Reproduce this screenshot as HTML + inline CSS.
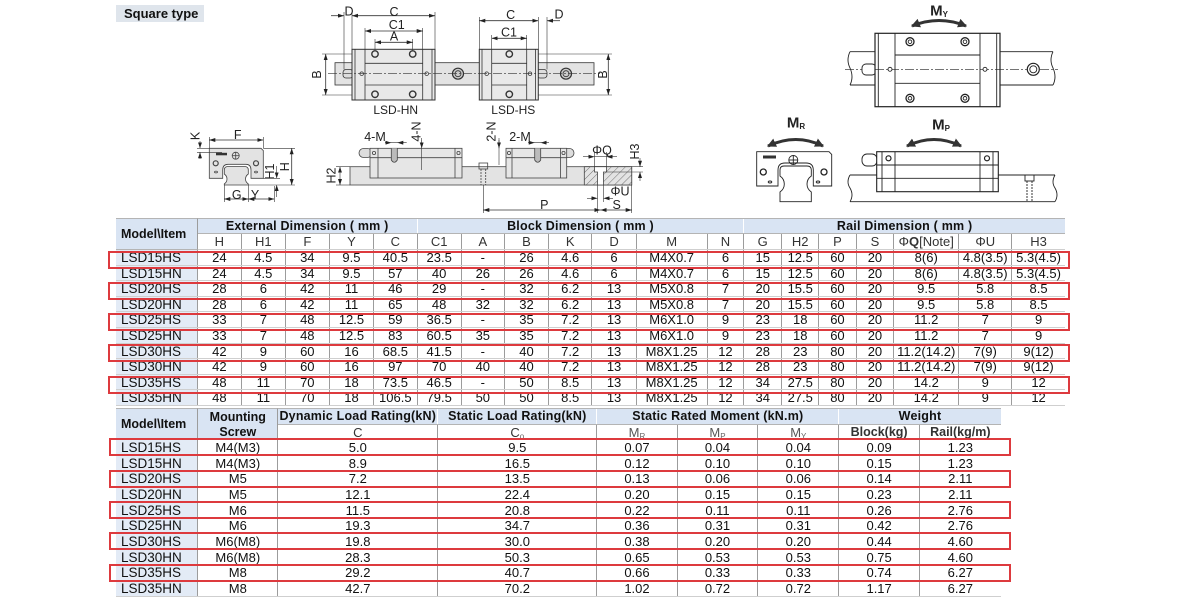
<!DOCTYPE html>
<html><head><meta charset="utf-8"><style>
body{margin:0;width:1200px;height:600px;background:#fff;position:relative;overflow:hidden;font-family:"Liberation Sans",Arial,sans-serif;color:#111}
.r{position:absolute;display:flex;box-sizing:border-box;border-bottom:1px solid #cfcfcf}
.r>div{box-sizing:border-box;border-right:1px solid #9c9c9c;text-align:center;font-size:13px;line-height:16.5px;white-space:nowrap;flex:none;overflow:visible}
.d>div:first-child{text-align:left;padding-left:5px;background:#e3ebf6;font-size:13.5px}
.t1{left:116px;width:949px;height:15.6px}
.t1>div:nth-child(1){width:81.7px}.t1>div:nth-child(2){width:44.3px}.t1>div:nth-child(3){width:43.7px}.t1>div:nth-child(4){width:44.3px}
.t1>div:nth-child(5){width:44px}.t1>div:nth-child(6){width:43.7px}.t1>div:nth-child(7){width:44px}.t1>div:nth-child(8){width:43.3px}
.t1>div:nth-child(9){width:44px}.t1>div:nth-child(10){width:43.5px}.t1>div:nth-child(11){width:44.2px}.t1>div:nth-child(12){width:71px}
.t1>div:nth-child(13){width:36.6px}.t1>div:nth-child(14){width:38px}.t1>div:nth-child(15){width:37px}.t1>div:nth-child(16){width:37.4px}
.t1>div:nth-child(17){width:37.6px}.t1>div:nth-child(18){width:65px}.t1>div:nth-child(19){width:53px}.t1>div:nth-child(20){width:52.7px;border-right:none}
.t2{left:116px;width:884.7px;height:15.67px}
.t2>div:nth-child(1){width:82.3px}.t2>div:nth-child(2){width:80px}.t2>div:nth-child(3){width:160px}.t2>div:nth-child(4){width:159px}
.t2>div:nth-child(5){width:80.4px}.t2>div:nth-child(6){width:80.6px}.t2>div:nth-child(7){width:81px}.t2>div:nth-child(8){width:80.7px}.t2>div:nth-child(9){width:80.7px;border-right:none}
.hg{position:absolute;display:flex;box-sizing:border-box;border-top:1px solid #b4b4b4;border-bottom:1px solid #b4b4b4}
.hg>div{box-sizing:border-box;background:#d9e4f3;border-right:1px solid #fff;font-weight:bold;font-size:12.5px;line-height:15px;text-align:center;white-space:nowrap;flex:none;letter-spacing:.2px}
.sub>div{color:#333;line-height:15px}
.hid{visibility:hidden}
.mi{position:absolute;z-index:2;box-sizing:border-box;background:#d9e4f3;border-top:1px solid #b4b4b4;border-right:1px solid #9c9c9c;border-bottom:1px solid #b4b4b4;font-weight:bold;font-size:12.5px;padding-left:5px;white-space:nowrap}
.rb{position:absolute;box-sizing:border-box;border:2px solid #dd3a3e;z-index:3}
.sm{font-size:8px;color:#666;vertical-align:-2px}
svg text{font-family:"Liberation Sans",Arial,sans-serif;fill:#222}
</style></head><body>

<div style="position:absolute;left:116px;top:5px;width:88px;height:17px;background:#dfe5ec;font-weight:bold;font-size:13px;line-height:17px;padding-left:8px;box-sizing:border-box">Square type</div>

<svg width="1200" height="216" style="position:absolute;left:0;top:0">
<defs>
<marker id="ar" viewBox="0 0 6 4" refX="6" refY="2" markerWidth="6" markerHeight="4" orient="auto-start-reverse" markerUnits="userSpaceOnUse"><path d="M0,0 L6,2 L0,4z" fill="#222"/></marker>
<marker id="bg" viewBox="0 0 8 8" refX="7" refY="4" markerWidth="9" markerHeight="9" orient="auto-start-reverse" markerUnits="userSpaceOnUse"><path d="M0,0 L8,4 L0,8z" fill="#333"/></marker>
<pattern id="hatch" width="5" height="5" patternUnits="userSpaceOnUse" patternTransform="rotate(45)"><rect width="5" height="5" fill="#e3e3e3"/><line x1="0" y1="0" x2="0" y2="5" stroke="#555" stroke-width="0.8"/></pattern>
</defs>

<g stroke="#333" stroke-width="0.8" fill="none">
<rect x="335" y="62.7" width="259" height="22.3" fill="#e3e3e3"/>
<rect x="343" y="69.5" width="10" height="8.5" rx="3" fill="#ddd"/>
<rect x="352" y="49.3" width="83" height="50.7" fill="#e9e9e9" stroke-width="1"/>
<line x1="355" y1="49.3" x2="355" y2="100"/><line x1="432" y1="49.3" x2="432" y2="100"/>
<line x1="365" y1="49.3" x2="365" y2="100"/><line x1="422.7" y1="49.3" x2="422.7" y2="100"/>
<line x1="365" y1="63.3" x2="422.7" y2="63.3"/><line x1="365" y1="85" x2="422.7" y2="85"/>
<circle cx="375" cy="54" r="3.2" stroke-width="1.4"/><circle cx="412.7" cy="54" r="3.2" stroke-width="1.4"/>
<circle cx="375" cy="94.3" r="3.2" stroke-width="1.4"/><circle cx="412.7" cy="94.3" r="3.2" stroke-width="1.4"/>
<circle cx="361.7" cy="73.7" r="1.8"/><circle cx="426.7" cy="73.7" r="1.8"/>
<circle cx="458" cy="73.7" r="5.5" fill="#ccc" stroke-width="1.2"/><circle cx="458" cy="73.7" r="3"/>
<rect x="537" y="69.5" width="10" height="8.5" rx="3" fill="#ddd"/>
<rect x="479.3" y="49.3" width="59" height="50.7" fill="#e9e9e9" stroke-width="1"/>
<line x1="482" y1="49.3" x2="482" y2="100"/><line x1="535.5" y1="49.3" x2="535.5" y2="100"/>
<line x1="491.7" y1="49.3" x2="491.7" y2="100"/><line x1="526.7" y1="49.3" x2="526.7" y2="100"/>
<line x1="491.7" y1="63.3" x2="526.7" y2="63.3"/><line x1="491.7" y1="85" x2="526.7" y2="85"/>
<circle cx="509.3" cy="54" r="3.2" stroke-width="1.4"/><circle cx="509.3" cy="94.3" r="3.2" stroke-width="1.4"/>
<circle cx="486.7" cy="73.7" r="1.8"/><circle cx="530" cy="73.7" r="1.8"/>
<circle cx="566" cy="73.7" r="5.5" fill="#ccc" stroke-width="1.2"/><circle cx="566" cy="73.7" r="3"/>
<line x1="328" y1="73.7" x2="600" y2="73.7" stroke-dasharray="9 2 2 2" stroke-width="0.6"/>
<line x1="322" y1="54" x2="352" y2="54" stroke-width="0.6"/><line x1="322" y1="95" x2="352" y2="95" stroke-width="0.6"/>
<line x1="325.7" y1="54" x2="325.7" y2="95" marker-start="url(#ar)" marker-end="url(#ar)"/>
<line x1="538" y1="54" x2="612" y2="54" stroke-width="0.6"/><line x1="538" y1="95" x2="612" y2="95" stroke-width="0.6"/>
<line x1="608.3" y1="54" x2="608.3" y2="95" marker-start="url(#ar)" marker-end="url(#ar)"/>
<line x1="352" y1="12" x2="352" y2="49.3" stroke-width="0.6"/><line x1="435" y1="12" x2="435" y2="49.3" stroke-width="0.6"/>
<line x1="344" y1="12" x2="344" y2="69.5" stroke-width="0.6"/>
<line x1="352" y1="15.7" x2="435" y2="15.7" marker-start="url(#ar)" marker-end="url(#ar)"/>
<line x1="331" y1="15.7" x2="344" y2="15.7" marker-end="url(#ar)"/>
<line x1="365" y1="28" x2="365" y2="49.3" stroke-width="0.6"/><line x1="422.7" y1="28" x2="422.7" y2="49.3" stroke-width="0.6"/>
<line x1="365" y1="31" x2="422.7" y2="31" marker-start="url(#ar)" marker-end="url(#ar)"/>
<line x1="375" y1="39" x2="375" y2="51" stroke-width="0.6"/><line x1="412.7" y1="39" x2="412.7" y2="51" stroke-width="0.6"/>
<line x1="375" y1="42.3" x2="412.7" y2="42.3" marker-start="url(#ar)" marker-end="url(#ar)"/>
<line x1="479.3" y1="17" x2="479.3" y2="49.3" stroke-width="0.6"/><line x1="538.3" y1="17" x2="538.3" y2="49.3" stroke-width="0.6"/>
<line x1="547" y1="17" x2="547" y2="69.5" stroke-width="0.6"/>
<line x1="479.3" y1="20.7" x2="538.3" y2="20.7" marker-start="url(#ar)" marker-end="url(#ar)"/>
<line x1="560" y1="20.7" x2="547" y2="20.7" marker-end="url(#ar)"/>
<line x1="491.7" y1="35" x2="491.7" y2="49.3" stroke-width="0.6"/><line x1="526.7" y1="35" x2="526.7" y2="49.3" stroke-width="0.6"/>
<line x1="491.7" y1="38.3" x2="526.7" y2="38.3" marker-start="url(#ar)" marker-end="url(#ar)"/>
</g>
<g font-size="12.5" text-anchor="middle" dominant-baseline="central">
<text x="349" y="11.5">D</text><text x="394" y="12">C</text><text x="396.7" y="25">C1</text><text x="394" y="36.5">A</text>
<text x="510.7" y="15">C</text><text x="559" y="14.5">D</text><text x="509" y="32.5">C1</text>
<text transform="translate(317,74.5) rotate(-90)">B</text><text transform="translate(603,74.5) rotate(-90)">B</text>
<text x="395.7" y="110" font-size="12">LSD-HN</text><text x="513.3" y="110" font-size="12">LSD-HS</text>
</g>

<g stroke="#444" stroke-width="0.8" fill="none">
<path d="M209.3,148.3 H261 L263.3,150.6 V178.3 H251 V170 Q251,164.3 246,164.3 H228 Q222.7,164.3 222.7,170 V178.3 H209.3 Z" fill="#e3e3e3"/>
<path d="M224.3,170 Q224.3,166.5 228,166.5 H244.6 Q248.3,166.5 248.3,170 V174 Q245.5,176 245.5,179 Q245.5,182 248.3,184 V185 H224.3 V184 Q227,182 227,179 Q227,176 224.3,174 Z" fill="#e3e3e3"/>
<rect x="216" y="152.8" width="11" height="2.5" fill="#333" stroke="none"/>
<circle cx="235.7" cy="155.7" r="3.5"/><line x1="232.2" y1="155.7" x2="239.2" y2="155.7"/><line x1="235.7" y1="152.2" x2="235.7" y2="159.2"/>
<circle cx="215.7" cy="163.3" r="2.5" stroke-width="1.2"/><circle cx="256" cy="163.3" r="2.5" stroke-width="1.2"/>
<ellipse cx="216" cy="172" rx="1.5" ry="0.9"/><ellipse cx="256" cy="172" rx="1.5" ry="0.9"/>
<g stroke="#333" stroke-width="0.6">
<line x1="209.3" y1="137" x2="209.3" y2="148.3"/><line x1="263.3" y1="137" x2="263.3" y2="148.3"/>
<line x1="209.3" y1="140" x2="263.3" y2="140" marker-start="url(#ar)" marker-end="url(#ar)" stroke-width="0.8"/>
<line x1="197" y1="148.3" x2="209.3" y2="148.3"/><line x1="197" y1="152.3" x2="222" y2="152.3"/>
<line x1="200" y1="141" x2="200" y2="148.3" marker-end="url(#ar)"/><line x1="200" y1="159" x2="200" y2="152.3" marker-end="url(#ar)"/>
<line x1="263.3" y1="148.3" x2="295" y2="148.3"/><line x1="248.3" y1="185" x2="295" y2="185"/><line x1="263.3" y1="178.3" x2="280" y2="178.3"/>
<line x1="291.7" y1="148.3" x2="291.7" y2="185" marker-start="url(#ar)" marker-end="url(#ar)" stroke-width="0.8"/>
<line x1="276.7" y1="166" x2="276.7" y2="178.3" marker-end="url(#ar)"/><line x1="276.7" y1="197" x2="276.7" y2="185" marker-end="url(#ar)"/>
<line x1="224.3" y1="185" x2="224.3" y2="202"/><line x1="248.3" y1="185" x2="248.3" y2="202"/><line x1="274.3" y1="186" x2="274.3" y2="202"/>
<line x1="224.3" y1="199" x2="248.3" y2="199" marker-start="url(#ar)" marker-end="url(#ar)" stroke-width="0.8"/>
<line x1="248.3" y1="199" x2="274.3" y2="199" marker-start="url(#ar)" marker-end="url(#ar)" stroke-width="0.8"/>
</g></g>
<g font-size="12.5" text-anchor="middle" dominant-baseline="central">
<text x="237.7" y="135">F</text><text transform="translate(195.5,136) rotate(-90)">K</text>
<text transform="translate(285,166.7) rotate(-90)">H</text><text transform="translate(270,171.5) rotate(-90)">H1</text>
<text x="236.7" y="195">G</text><text x="255" y="195">Y</text>
</g>

<g stroke="#444" stroke-width="0.8" fill="none">
<rect x="350" y="166.7" width="281.7" height="18.3" fill="#e3e3e3"/>
<rect x="584.3" y="166.7" width="47.4" height="18.3" fill="url(#hatch)"/>
<path d="M594.5,166.7 V172 H597.5 V185 H603.5 V172 H606.5 V166.7 Z" fill="#fff"/>
<rect x="359" y="148.5" width="13" height="9" rx="4.5" fill="#ddd"/>
<rect x="370" y="148.3" width="92" height="29.7" fill="#e6e6e6"/>
<line x1="378" y1="148.3" x2="378" y2="178"/><line x1="455" y1="148.3" x2="455" y2="178"/><line x1="370" y1="157.7" x2="462" y2="157.7"/>
<path d="M391.3,148.3 V160 Q394.3,164.5 397.3,160 V148.3" fill="#bbb"/>
<circle cx="374" cy="153" r="1.6"/><circle cx="458.5" cy="153" r="1.6"/>
<rect x="561" y="148.5" width="13" height="9" rx="4.5" fill="#ddd"/>
<rect x="506" y="148.3" width="60.7" height="29.7" fill="#e6e6e6"/>
<line x1="512" y1="148.3" x2="512" y2="178"/><line x1="560.5" y1="148.3" x2="560.5" y2="178"/><line x1="506" y1="157.7" x2="566.7" y2="157.7"/>
<path d="M534.7,148.3 V160 Q537.7,164.5 540.7,160 V148.3" fill="#bbb"/>
<circle cx="509" cy="153" r="1.6"/><circle cx="563.5" cy="153" r="1.6"/>
<rect x="479" y="163" width="8.7" height="6"/><line x1="481" y1="169" x2="481" y2="185" stroke-dasharray="2 1"/><line x1="485.7" y1="169" x2="485.7" y2="185" stroke-dasharray="2 1"/>
<g stroke="#333" stroke-width="0.6">
<line x1="336" y1="166.7" x2="350" y2="166.7"/><line x1="336" y1="185" x2="350" y2="185"/>
<line x1="340" y1="166.7" x2="340" y2="185" marker-start="url(#ar)" marker-end="url(#ar)"/>
<line x1="385" y1="142.7" x2="406.7" y2="142.7"/><line x1="385" y1="142.7" x2="391.3" y2="142.7" marker-end="url(#ar)"/><line x1="404" y1="142.7" x2="397.3" y2="142.7" marker-end="url(#ar)"/>
<line x1="421.7" y1="138" x2="421.7" y2="170" /><line x1="421.7" y1="140" x2="421.7" y2="148.3" marker-end="url(#ar)"/>
<line x1="499" y1="138" x2="499" y2="165"/><line x1="499" y1="140" x2="499" y2="148.3" marker-end="url(#ar)"/>
<line x1="528" y1="142.7" x2="549" y2="142.7"/><line x1="529" y1="142.7" x2="534.7" y2="142.7" marker-end="url(#ar)"/><line x1="547" y1="142.7" x2="540.7" y2="142.7" marker-end="url(#ar)"/>
<line x1="583" y1="156.7" x2="594.5" y2="156.7" marker-end="url(#ar)"/><line x1="617" y1="156.7" x2="606.5" y2="156.7" marker-end="url(#ar)"/><line x1="594.5" y1="156.7" x2="606.5" y2="156.7"/>
<line x1="594.5" y1="152" x2="594.5" y2="166.7"/><line x1="606.5" y1="152" x2="606.5" y2="166.7"/>
<line x1="631.7" y1="166.7" x2="643" y2="166.7"/><line x1="606.5" y1="172" x2="643" y2="172"/>
<line x1="640" y1="158" x2="640" y2="166.7" marker-end="url(#ar)"/><line x1="640" y1="181" x2="640" y2="172" marker-end="url(#ar)"/>
<line x1="597.5" y1="185" x2="597.5" y2="213"/><line x1="603.5" y1="185" x2="603.5" y2="202"/>
<line x1="587" y1="198.3" x2="597.5" y2="198.3" marker-end="url(#ar)"/><line x1="613" y1="198.3" x2="603.5" y2="198.3" marker-end="url(#ar)"/>
<line x1="483.3" y1="185" x2="483.3" y2="213"/><line x1="631.7" y1="185" x2="631.7" y2="213"/>
<line x1="483.3" y1="210" x2="600.5" y2="210" marker-start="url(#ar)" marker-end="url(#ar)" stroke-width="0.8"/>
<line x1="600.5" y1="210" x2="631.7" y2="210" marker-start="url(#ar)" marker-end="url(#ar)" stroke-width="0.8"/>
</g></g>
<g font-size="12.5" text-anchor="middle" dominant-baseline="central">
<text transform="translate(331.7,175.5) rotate(-90)">H2</text>
<text x="375" y="137">4-M</text><text transform="translate(416.7,131.5) rotate(-90)">4-N</text>
<text transform="translate(491.7,131.5) rotate(-90)">2-N</text><text x="520" y="137">2-M</text>
<text x="602" y="150.5">ΦQ</text><text transform="translate(635,151.5) rotate(-90)">H3</text>
<text x="620" y="191.5">ΦU</text><text x="544.3" y="205">P</text><text x="616.7" y="205">S</text>
</g>

<g stroke="#222" stroke-width="0.9" fill="none">
<path d="M912,26 Q939,15 966,26" stroke="#333" stroke-width="3" marker-start="url(#bg)" marker-end="url(#bg)"/>
<line x1="850" y1="51.7" x2="1053" y2="51.7"/><line x1="850" y1="85" x2="1053" y2="85"/>
<path d="M850,51.7 Q846,60 850,68 Q854,77 850,85"/><path d="M1053,51.7 Q1049,60 1053,68 Q1057,77 1053,85"/>
<line x1="845" y1="69.3" x2="1058" y2="69.3" stroke-dasharray="9 2 2 2" stroke-width="0.6"/>
<rect x="862" y="64" width="14" height="11" rx="4" fill="#fff"/>
<rect x="875" y="33.3" width="125" height="73.4" fill="#fff" stroke-width="1.2"/>
<line x1="878.3" y1="33.3" x2="878.3" y2="106.7"/><line x1="996.7" y1="33.3" x2="996.7" y2="106.7"/>
<line x1="895" y1="33.3" x2="895" y2="106.7"/><line x1="980" y1="33.3" x2="980" y2="106.7"/>
<line x1="895" y1="55" x2="980" y2="55"/><line x1="895" y1="83.3" x2="980" y2="83.3"/>
<line x1="875" y1="69.3" x2="1000" y2="69.3" stroke-dasharray="9 2 2 2" stroke-width="0.6"/>
<circle cx="910" cy="41.7" r="4" stroke-width="1.3"/><circle cx="910" cy="41.7" r="1.8"/>
<circle cx="965" cy="41.7" r="4" stroke-width="1.3"/><circle cx="965" cy="41.7" r="1.8"/>
<circle cx="910" cy="98.3" r="4" stroke-width="1.3"/><circle cx="910" cy="98.3" r="1.8"/>
<circle cx="965" cy="98.3" r="4" stroke-width="1.3"/><circle cx="965" cy="98.3" r="1.8"/>
<circle cx="890" cy="69.3" r="2" fill="#fff"/><circle cx="985" cy="69.3" r="2" fill="#fff"/>
<circle cx="1033.3" cy="69.3" r="6" fill="#fff" stroke-width="1.2"/><circle cx="1033.3" cy="69.3" r="3.5"/>
<path d="M768,146 Q796,133 823,146" stroke="#333" stroke-width="3" marker-start="url(#bg)" marker-end="url(#bg)"/>
<path d="M756.7,151.7 H829 L831.7,154.4 V186 H813.3 V170 Q813.3,163 806,163 H785 Q778,163 778,170 V186 H756.7 Z" fill="#fff"/>
<path d="M780,170 Q780,166 784,166 H807 Q811.3,166 811.3,170 V176 Q807,179 807,184 Q807,189 811.3,192 V201.7 H780 V192 Q784.3,189 784.3,184 Q784.3,179 780,176 Z" fill="#fff"/>
<rect x="763" y="155.5" width="13" height="3" fill="#333" stroke="none"/>
<circle cx="793.3" cy="160" r="4.5"/><line x1="788.8" y1="160" x2="797.8" y2="160"/><line x1="793.3" y1="155.5" x2="793.3" y2="164.5"/>
<circle cx="763.3" cy="172" r="3" stroke-width="1.3"/><circle cx="824" cy="172" r="3" stroke-width="1.3"/>
<ellipse cx="770" cy="182" rx="1.8" ry="1"/><ellipse cx="818" cy="182" rx="1.8" ry="1"/>
<path d="M907,146 Q934,133 961,146" stroke="#333" stroke-width="3" marker-start="url(#bg)" marker-end="url(#bg)"/>
<line x1="850" y1="175" x2="1055" y2="175"/><line x1="850" y1="201.7" x2="1055" y2="201.7"/>
<path d="M850,175 Q846,182 850,188 Q854,195 850,201.7"/><path d="M1055,175 Q1051,182 1055,188 Q1059,195 1055,201.7"/>
<rect x="862" y="154" width="15" height="12" rx="5" fill="#fff"/>
<rect x="876.7" y="151.7" width="121.6" height="40" fill="#fff" stroke-width="1.1"/>
<line x1="895" y1="151.7" x2="895" y2="191.7"/><line x1="980" y1="151.7" x2="980" y2="191.7"/>
<line x1="882" y1="151.7" x2="882" y2="191.7"/><line x1="993" y1="151.7" x2="993" y2="191.7"/>
<line x1="876.7" y1="165" x2="998.3" y2="165"/><line x1="876.7" y1="178.3" x2="998.3" y2="178.3"/>
<circle cx="888.5" cy="158.3" r="2.5" stroke-width="1.2"/><circle cx="987" cy="158.3" r="2.5" stroke-width="1.2"/>
<rect x="1025" y="175" width="9" height="6"/><line x1="1027" y1="181" x2="1027" y2="201.7" stroke-dasharray="2 1"/><line x1="1032" y1="181" x2="1032" y2="201.7" stroke-dasharray="2 1"/>
</g>
<g font-weight="bold" text-anchor="middle" dominant-baseline="central" font-size="15">
<text x="939" y="11">M<tspan font-size="8" dy="3">Y</tspan></text>
<text x="796" y="123">M<tspan font-size="8" dy="3">R</tspan></text>
<text x="941" y="125">M<tspan font-size="8" dy="3">P</tspan></text>
</g>
</svg>

<div class="mi" style="left:116px;top:218px;width:81.7px;height:32px;line-height:30px">Model\Item</div>
<div class="hg" style="left:197.7px;top:218px;height:16px">
<div style="width:220px">External Dimension ( mm )</div><div style="width:326.6px">Block Dimension ( mm )</div><div style="width:320.7px;border-right:none">Rail Dimension ( mm )</div></div>
<div class="r t1 sub" style="top:234px;height:16px"><div class="hid"></div><div>H</div><div>H1</div><div>F</div><div>Y</div><div>C</div><div>C1</div><div>A</div><div>B</div><div>K</div><div>D</div><div>M</div><div>N</div><div>G</div><div>H2</div><div>P</div><div>S</div><div>Φ<b>Q</b>[Note]</div><div>ΦU</div><div>H3</div></div>

<div class="r t1 d" style="top:250px"><div>LSD15HS</div><div>24</div><div>4.5</div><div>34</div><div>9.5</div><div>40.5</div><div>23.5</div><div>-</div><div>26</div><div>4.6</div><div>6</div><div>M4X0.7</div><div>6</div><div>15</div><div>12.5</div><div>60</div><div>20</div><div>8(6)</div><div>4.8(3.5)</div><div>5.3(4.5)</div></div>
<div class="r t1 d" style="top:265.6px"><div>LSD15HN</div><div>24</div><div>4.5</div><div>34</div><div>9.5</div><div>57</div><div>40</div><div>26</div><div>26</div><div>4.6</div><div>6</div><div>M4X0.7</div><div>6</div><div>15</div><div>12.5</div><div>60</div><div>20</div><div>8(6)</div><div>4.8(3.5)</div><div>5.3(4.5)</div></div>
<div class="r t1 d" style="top:281.2px"><div>LSD20HS</div><div>28</div><div>6</div><div>42</div><div>11</div><div>46</div><div>29</div><div>-</div><div>32</div><div>6.2</div><div>13</div><div>M5X0.8</div><div>7</div><div>20</div><div>15.5</div><div>60</div><div>20</div><div>9.5</div><div>5.8</div><div>8.5</div></div>
<div class="r t1 d" style="top:296.8px"><div>LSD20HN</div><div>28</div><div>6</div><div>42</div><div>11</div><div>65</div><div>48</div><div>32</div><div>32</div><div>6.2</div><div>13</div><div>M5X0.8</div><div>7</div><div>20</div><div>15.5</div><div>60</div><div>20</div><div>9.5</div><div>5.8</div><div>8.5</div></div>
<div class="r t1 d" style="top:312.4px"><div>LSD25HS</div><div>33</div><div>7</div><div>48</div><div>12.5</div><div>59</div><div>36.5</div><div>-</div><div>35</div><div>7.2</div><div>13</div><div>M6X1.0</div><div>9</div><div>23</div><div>18</div><div>60</div><div>20</div><div>11.2</div><div>7</div><div>9</div></div>
<div class="r t1 d" style="top:328px"><div>LSD25HN</div><div>33</div><div>7</div><div>48</div><div>12.5</div><div>83</div><div>60.5</div><div>35</div><div>35</div><div>7.2</div><div>13</div><div>M6X1.0</div><div>9</div><div>23</div><div>18</div><div>60</div><div>20</div><div>11.2</div><div>7</div><div>9</div></div>
<div class="r t1 d" style="top:343.6px"><div>LSD30HS</div><div>42</div><div>9</div><div>60</div><div>16</div><div>68.5</div><div>41.5</div><div>-</div><div>40</div><div>7.2</div><div>13</div><div>M8X1.25</div><div>12</div><div>28</div><div>23</div><div>80</div><div>20</div><div>11.2(14.2)</div><div>7(9)</div><div>9(12)</div></div>
<div class="r t1 d" style="top:359.2px"><div>LSD30HN</div><div>42</div><div>9</div><div>60</div><div>16</div><div>97</div><div>70</div><div>40</div><div>40</div><div>7.2</div><div>13</div><div>M8X1.25</div><div>12</div><div>28</div><div>23</div><div>80</div><div>20</div><div>11.2(14.2)</div><div>7(9)</div><div>9(12)</div></div>
<div class="r t1 d" style="top:374.8px"><div>LSD35HS</div><div>48</div><div>11</div><div>70</div><div>18</div><div>73.5</div><div>46.5</div><div>-</div><div>50</div><div>8.5</div><div>13</div><div>M8X1.25</div><div>12</div><div>34</div><div>27.5</div><div>80</div><div>20</div><div>14.2</div><div>9</div><div>12</div></div>
<div class="r t1 d" style="top:390.4px"><div>LSD35HN</div><div>48</div><div>11</div><div>70</div><div>18</div><div>106.5</div><div>79.5</div><div>50</div><div>50</div><div>8.5</div><div>13</div><div>M8X1.25</div><div>12</div><div>34</div><div>27.5</div><div>80</div><div>20</div><div>14.2</div><div>9</div><div>12</div></div>

<div class="rb" style="left:108.3px;top:250.7px;width:962px;height:18px"></div>
<div class="rb" style="left:108.3px;top:281.9px;width:962px;height:18px"></div>
<div class="rb" style="left:108.3px;top:313.1px;width:962px;height:18px"></div>
<div class="rb" style="left:108.3px;top:344.3px;width:962px;height:18px"></div>
<div class="rb" style="left:108.3px;top:375.5px;width:962px;height:18px"></div>

<div class="mi" style="left:116px;top:408px;width:82.3px;height:32px;line-height:30px">Model\Item</div>
<div class="mi" style="left:198.3px;top:408px;width:80px;height:32px;line-height:14.5px;padding:1px 0 0 0;text-align:center">Mounting<br>Screw</div>
<div class="hg" style="left:278.3px;top:408px;height:16.5px">
<div style="width:160px">Dynamic Load Rating(kN)</div><div style="width:159px">Static Load Rating(kN)</div><div style="width:242px">Static Rated Moment (kN.m)</div><div style="width:161.4px;border-right:none">Weight</div></div>
<div class="r t2 sub" style="top:424.5px;height:15.5px"><div class="hid"></div><div class="hid"></div><div>C</div><div>C<span class="sm">o</span></div><div style="color:#555">M<span class="sm">R</span></div><div style="color:#555">M<span class="sm">P</span></div><div style="color:#555">M<span class="sm">Y</span></div><div style="font-weight:bold;font-size:12.5px">Block(kg)</div><div style="font-weight:bold;font-size:12.5px">Rail(kg/m)</div></div>

<div class="r t2 d" style="top:440px"><div>LSD15HS</div><div>M4(M3)</div><div>5.0</div><div>9.5</div><div>0.07</div><div>0.04</div><div>0.04</div><div>0.09</div><div>1.23</div></div>
<div class="r t2 d" style="top:455.67px"><div>LSD15HN</div><div>M4(M3)</div><div>8.9</div><div>16.5</div><div>0.12</div><div>0.10</div><div>0.10</div><div>0.15</div><div>1.23</div></div>
<div class="r t2 d" style="top:471.33px"><div>LSD20HS</div><div>M5</div><div>7.2</div><div>13.5</div><div>0.13</div><div>0.06</div><div>0.06</div><div>0.14</div><div>2.11</div></div>
<div class="r t2 d" style="top:487px"><div>LSD20HN</div><div>M5</div><div>12.1</div><div>22.4</div><div>0.20</div><div>0.15</div><div>0.15</div><div>0.23</div><div>2.11</div></div>
<div class="r t2 d" style="top:502.67px"><div>LSD25HS</div><div>M6</div><div>11.5</div><div>20.8</div><div>0.22</div><div>0.11</div><div>0.11</div><div>0.26</div><div>2.76</div></div>
<div class="r t2 d" style="top:518.33px"><div>LSD25HN</div><div>M6</div><div>19.3</div><div>34.7</div><div>0.36</div><div>0.31</div><div>0.31</div><div>0.42</div><div>2.76</div></div>
<div class="r t2 d" style="top:534px"><div>LSD30HS</div><div>M6(M8)</div><div>19.8</div><div>30.0</div><div>0.38</div><div>0.20</div><div>0.20</div><div>0.44</div><div>4.60</div></div>
<div class="r t2 d" style="top:549.67px"><div>LSD30HN</div><div>M6(M8)</div><div>28.3</div><div>50.3</div><div>0.65</div><div>0.53</div><div>0.53</div><div>0.75</div><div>4.60</div></div>
<div class="r t2 d" style="top:565.33px"><div>LSD35HS</div><div>M8</div><div>29.2</div><div>40.7</div><div>0.66</div><div>0.33</div><div>0.33</div><div>0.74</div><div>6.27</div></div>
<div class="r t2 d" style="top:581px"><div>LSD35HN</div><div>M8</div><div>42.7</div><div>70.2</div><div>1.02</div><div>0.72</div><div>0.72</div><div>1.17</div><div>6.27</div></div>

<div class="rb" style="left:109px;top:438.3px;width:902px;height:18px"></div>
<div class="rb" style="left:109px;top:469.6px;width:902px;height:18px"></div>
<div class="rb" style="left:109px;top:501px;width:902px;height:18px"></div>
<div class="rb" style="left:109px;top:532.3px;width:902px;height:18px"></div>
<div class="rb" style="left:109px;top:563.6px;width:902px;height:18px"></div>
</body></html>
